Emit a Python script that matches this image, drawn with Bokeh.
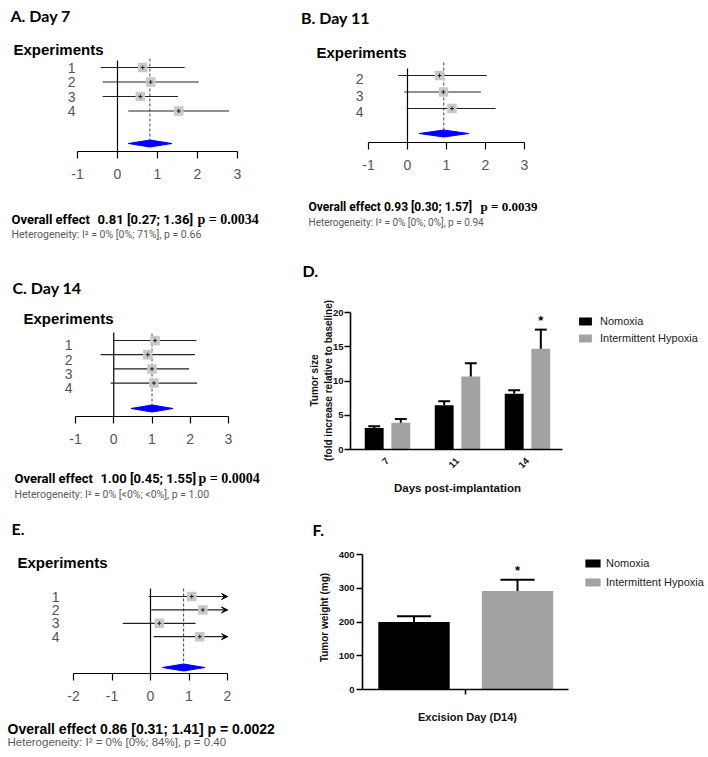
import math
from bokeh.plotting import figure
from bokeh.models import Range1d, FixedTicker, LinearAxis, Arrow, VeeHead, Legend, LegendItem
from bokeh.layouts import column, row
from bokeh.core.properties import value
from bokeh.embed import file_html
from bokeh.resources import INLINE

# ---------------- data ----------------
# A. Day 7 (forest plot)
expA = ["1", "2", "3", "4"]
estA = [0.63, 0.83, 0.57, 1.53]
lowA = [-0.42, -0.37, -0.37, 0.27]
highA = [1.68, 2.03, 1.51, 2.79]
sumA = [0.81, 0.27, 1.36]          # estimate, lower, upper
pvalA = "0.0034"
hetA = ["0%", "0%", "71%", "0.66"]  # I2, lower, upper, p

# B. Day 11
expB = ["2", "3", "4"]
estB = [0.82, 0.92, 1.14]
lowB = [-0.24, -0.08, -0.02]
highB = [2.03, 1.88, 2.26]
sumB = [0.93, 0.30, 1.57]
pvalB = "0.0039"
hetB = ["0%", "0%", "0%", "0.94"]

# C. Day 14
expC = ["1", "2", "3", "4"]
estC = [1.08, 0.89, 1.00, 1.05]
lowC = [0.00, -0.34, 0.00, -0.08]
highC = [2.16, 2.12, 1.97, 2.18]
sumC = [1.00, 0.45, 1.55]
pvalC = "0.0004"
hetC = ["0%", "<0%", "<0%", "1.00"]

# E. tumor weight (forest plot)
expE = ["1", "2", "3", "4"]
estE = [1.07, 1.36, 0.23, 1.28]
lowE = [-0.05, 0.02, -0.72, 0.08]
highE = [2.19, 2.70, 1.17, 2.48]
sumE = [0.86, 0.31, 1.41]
pvalE = "0.0022"
hetE = ["0%", "0%", "84%", "0.40"]

# D. tumor size by day
groups = ["Nomoxia", "Intermittent Hypoxia"]
days = ["7", "11", "14"]
size_norm = [3.15, 6.45, 8.15]
size_norm_sem = [0.25, 0.60, 0.50]
size_ih = [3.90, 10.65, 14.70]
size_ih_sem = [0.55, 1.95, 2.80]
size_sig = ["", "", "*"]

# F. tumor weight at excision
weight_mean = [200, 292]
weight_sem = [17, 33]
weight_sig = ["", "*"]

NARROW = "Roboto"
SANS = "Liberation Sans"
SERIF = "Liberation Serif"
TITLE = "Lato"
BLACK = "#000000"
GREY_BAR = "#a2a2a2"
HET_GREY = "#5a5a5a"


def lin(p1, v1, p2, v2):
    return lambda px: v1 + (px - p1) * (v2 - v1) / (p2 - p1)


def canvas(ox, oy, W, H, X, Y):
    p = figure(width=W, height=H,
               x_range=Range1d(X(ox), X(ox + W)), y_range=Range1d(Y(oy + H), Y(oy)),
               output_backend="svg", toolbar_location=None,
               x_axis_location=None, y_axis_location=None,
               min_border=0, min_border_left=0, min_border_right=0,
               min_border_top=0, min_border_bottom=0,
               outline_line_color=None)
    p.xgrid.visible = False
    p.ygrid.visible = False
    return p


def put_text(p, X, Y, texts):
    for t in texts:
        s, px, py, font, size, style, color = t[:7]
        align = t[7] if len(t) > 7 else "left"
        p.text(x=[X(px)], y=[Y(py)], text=[s], text_font=value(font), text_font_size=size,
               text_font_style=style, text_color=color, text_align=align,
               text_baseline="alphabetic")


def forest(ox, oy, W, H, fl, fr, ft, fb, xmin, xmax, xticks, row1, drow, diam_y,
           zero_top, dash_top, lab_dy, lab_standoff, exp, est, low, high, summ, texts):
    X = lin(fl, xmin, fr, xmax)
    Y = lin(row1, 1, row1 + drow, 2)
    p = canvas(ox, oy, W, H, X, Y)

    rows = list(range(1, len(exp) + 1))
    yd = Y(diam_y)
    half = 3.5 / drow
    p.segment(x0=[0], y0=[Y(zero_top)], x1=[0], y1=[Y(fb)], line_color="black", line_width=1.2)
    p.segment(x0=[summ[0]], y0=[Y(dash_top)], x1=[summ[0]], y1=[yd],
              line_color="#444444", line_width=1, line_dash="3 2")
    hi_c = [min(h, xmax) for h in high]
    p.segment(x0=low, y0=rows, x1=hi_c, y1=rows, line_color="#222222", line_width=1.2)
    for r, h in zip(rows, high):
        if h > xmax:
            p.add_layout(Arrow(end=VeeHead(size=6, line_color="black", fill_color="black", line_width=1),
                               x_start=xmax - 0.05, y_start=r, x_end=xmax, y_end=r,
                               line_color="black", line_width=1.2))
    p.scatter(est, rows, marker="square", size=9.5, fill_color="#c8c8c8", line_color=None)
    p.scatter(est, rows, marker="cross", size=4, line_color="#222222", line_width=1)
    p.patch([summ[1], summ[0], summ[2], summ[0]], [yd, yd + half, yd, yd - half],
            fill_color="#0000ff", line_color="#0000ff")

    xa = LinearAxis(fixed_location=Y(fb), bounds=(xmin, xmax), ticker=FixedTicker(ticks=xticks))
    xa.major_label_overrides = {t: str(t) for t in xticks}
    xa.axis_line_color = "black"
    xa.axis_line_width = 1.2
    xa.major_tick_in = 0
    xa.major_tick_out = 7
    xa.major_tick_line_color = "black"
    xa.major_tick_line_width = 1.2
    xa.minor_tick_line_color = None
    xa.major_label_text_font = SANS
    xa.major_label_text_font_size = "14px"
    xa.major_label_text_color = "#555555"
    xa.major_label_standoff = 10
    p.add_layout(xa, "below")

    ticks = [round(r + lab_dy / drow, 3) for r in rows]
    ya = LinearAxis(fixed_location=xmin, ticker=FixedTicker(ticks=ticks))
    ya.major_label_overrides = {t: e for t, e in zip(ticks, exp)}
    ya.axis_line_color = None
    ya.major_tick_line_color = None
    ya.major_tick_in = 0
    ya.major_tick_out = 0
    ya.minor_tick_line_color = None
    ya.major_label_text_font = SANS
    ya.major_label_text_font_size = "14px"
    ya.major_label_text_color = "#555555"
    ya.major_label_standoff = lab_standoff
    p.add_layout(ya, "left")

    put_text(p, X, Y, texts)
    return p


def het(h):
    return "Heterogeneity: I\u00b2 = %s [%s; %s], p = %s" % tuple(h)


def ci(s):
    return "%.2f  [%.2f; %.2f]" % (s[0], s[1], s[2])


pA = forest(0, 0, 300, 250, 77, 237, 58, 151, -1, 3, [-1, 0, 1, 2, 3],
            67, 14.5, 143, 60, 58, 0, 2, expA, estA, lowA, highA, sumA,
            [("A. Day 7", 10, 15, TITLE, "16px", "bold", BLACK),
             ("Experiments", 13, 49, SANS, "15px", "bold", BLACK),
             ("Overall effect", 11, 219, NARROW, "13px", "bold", BLACK),
             (ci(sumA), 97, 219, NARROW, "13px", "bold", BLACK),
             ("p = " + pvalA, 197, 219, SERIF, "14px", "bold", BLACK),
             (het(hetA), 11, 234, NARROW, "10.5px", "normal", HET_GREY)])

pB = forest(300, 0, 408, 250, 368, 524, 62, 142, -1, 3, [-1, 0, 1, 2, 3],
            75, 16.5, 133, 68, 62, 4, 5, expB, estB, lowB, highB, sumB,
            [("B. Day 11", 300.5, 17, TITLE, "16px", "bold", BLACK),
             ("Experiments", 316, 52, SANS, "15px", "bold", BLACK),
             ("Overall effect  " + ci(sumB).replace("  ", " "), 308, 206, NARROW, "12px", "bold", BLACK),
             ("p = " + pvalB, 480, 206, SERIF, "13px", "bold", BLACK),
             (het(hetB), 308, 222, NARROW, "10px", "normal", HET_GREY)])

pC = forest(0, 250, 300, 255, 75, 228, 332, 416, -1, 3, [-1, 0, 1, 2, 3],
            340, 14.2, 408, 332, 333, 5, 3, expC, estC, lowC, highC, sumC,
            [("C. Day 14", 12, 287, TITLE, "16px", "bold", BLACK),
             ("Experiments", 23, 318, SANS, "15px", "bold", BLACK),
             ("Overall effect", 14, 478, NARROW, "13px", "bold", BLACK),
             (ci(sumC), 100, 478, NARROW, "13px", "bold", BLACK),
             ("p = " + pvalC, 198, 478, SERIF, "14px", "bold", BLACK),
             (het(hetC), 14, 494, NARROW, "10.5px", "normal", HET_GREY)])

pE = forest(0, 505, 300, 252, 73, 227, 588, 673, -2, 2, [-2, -1, 0, 1, 2],
            596, 13.4, 667, 588, 588, 0, 14, expE, estE, lowE, highE, sumE,
            [("E.", 11, 528, TITLE, "16px", "bold", BLACK),
             ("Experiments", 17, 562, SANS, "15px", "bold", BLACK),
             ("Overall effect  " + ci(sumE) + "  p = " + pvalE, 7, 728, SANS, "14px", "bold", BLACK),
             (het(hetE), 7, 741, SANS, "11.5px", "normal", HET_GREY)])


def style_axis(ax):
    ax.axis_line_color = "black"
    ax.axis_line_width = 1.6
    ax.major_tick_line_color = "black"
    ax.major_tick_line_width = 1.6
    ax.major_tick_in = 0
    ax.minor_tick_line_color = None
    ax.major_label_text_font = SANS
    ax.major_label_text_font_style = "bold"
    ax.major_label_text_font_size = "9.5px"
    ax.major_label_text_color = "#111111"


def legend(p, rends, vx, vy, gw, standoff, spacing):
    lg = Legend(items=[LegendItem(label=g, renderers=[r]) for g, r in zip(groups, rends)],
                location=(vx, vy), glyph_width=gw, glyph_height=10, label_height=12,
                label_text_font=SANS, label_text_font_size="11px", label_text_color="#222222",
                label_standoff=standoff, spacing=spacing, padding=0, margin=0,
                border_line_color=None, background_fill_alpha=0)
    p.add_layout(lg)


# ---- D ----
XD = lin(387, 1, 457, 2)
YD = lin(449, 0, 312, 20)
pD = canvas(300, 250, 408, 255, XD, YD)
xs = list(range(1, len(days) + 1))
xn = [x - 0.19 for x in xs]
xi = [x + 0.19 for x in xs]
rn = pD.vbar(x=xn, top=size_norm, width=0.27, fill_color=BLACK, line_color=None)
ri = pD.vbar(x=xi, top=size_ih, width=0.27, fill_color=GREY_BAR, line_color=None)
for xx, m, s in ((xn, size_norm, size_norm_sem), (xi, size_ih, size_ih_sem)):
    tops = [a + b for a, b in zip(m, s)]
    pD.segment(x0=xx, y0=m, x1=xx, y1=tops, line_color="black", line_width=2)
    pD.segment(x0=[x - 0.085 for x in xx], y0=tops, x1=[x + 0.085 for x in xx], y1=tops,
               line_color="black", line_width=2)
star_x = [x for x, s in zip(xi, size_sig) if s]
star_y = [m + e + 1.3 for m, e, s in zip(size_ih, size_ih_sem, size_sig) if s]
pD.text(x=star_x, y=star_y, text=[s for s in size_sig if s], text_font=value(SANS),
        text_font_style="bold", text_font_size="13px", text_align="center", text_baseline="middle")
yaD = LinearAxis(fixed_location=XD(350), bounds=(0, 20), ticker=FixedTicker(ticks=[0, 5, 10, 15, 20]))
style_axis(yaD)
yaD.major_tick_out = 6
yaD.major_label_standoff = 1
pD.add_layout(yaD, "left")
xaD = LinearAxis(fixed_location=0, bounds=(XD(350), XD(562)), ticker=FixedTicker(ticks=xs))
style_axis(xaD)
xaD.major_label_overrides = {x: d for x, d in zip(xs, days)}
xaD.major_label_orientation = math.pi / 4
xaD.major_tick_line_color = None
xaD.major_label_standoff = 4
pD.add_layout(xaD, "below")
put_text(pD, XD, YD, [("D.", 302, 270, TITLE, "16px", "bold", BLACK),
                      ("Days post-implantation", 457, 487, SANS, "11.5px", "bold", "#111111", "center")])
for s, px in (("Tumor size", 314), ("(fold increase relative to baseline)", 328)):
    pD.text(x=[XD(px)], y=[YD(380)], text=[s], angle=math.pi / 2, text_font=value(SANS),
            text_font_size="10px", text_font_style="bold", text_color="#111111",
            text_align="center", text_baseline="alphabetic")
legend(pD, [rn, ri], 277, 161, 16, 7, 5)

# ---- F ----
XF = lin(413.5, 0, 517, 1)
YF = lin(689, 0, 554, 400)
pF = canvas(300, 505, 408, 252, XF, YF)
xf = list(range(len(groups)))
cols = [BLACK, GREY_BAR]
rF = [pF.vbar(x=[xf[i]], top=[weight_mean[i]], width=0.69, fill_color=cols[i], line_color=None)
      for i in xf]
ftops = [a + b for a, b in zip(weight_mean, weight_sem)]
pF.segment(x0=xf, y0=weight_mean, x1=xf, y1=ftops, line_color="black", line_width=2)
pF.segment(x0=[x - 0.165 for x in xf], y0=ftops, x1=[x + 0.165 for x in xf], y1=ftops,
           line_color="black", line_width=2)
fsx = [x for x, s in zip(xf, weight_sig) if s]
fsy = [t + 28 for t, s in zip(ftops, weight_sig) if s]
pF.text(x=fsx, y=fsy, text=[s for s in weight_sig if s], text_font=value(SANS),
        text_font_style="bold", text_font_size="13px", text_align="center", text_baseline="middle")
yaF = LinearAxis(fixed_location=XF(362), bounds=(0, 400),
                 ticker=FixedTicker(ticks=[0, 100, 200, 300, 400]))
style_axis(yaF)
yaF.major_tick_out = 6
yaF.major_label_standoff = 2
pF.add_layout(yaF, "left")
xaF = LinearAxis(fixed_location=0, bounds=(XF(362), XF(568)), ticker=FixedTicker(ticks=[0.5]))
style_axis(xaF)
xaF.major_label_overrides = {0.5: ""}
xaF.major_tick_out = 5
pF.add_layout(xaF, "below")
put_text(pF, XF, YF, [("F.", 312, 529, TITLE, "16px", "bold", BLACK),
                      ("Excision Day (D14)", 467, 716, SANS, "11px", "bold", "#111111", "center")])
pF.text(x=[XF(324)], y=[YF(617)], text=["Tumor weight (mg)"], angle=math.pi / 2,
        text_font=value(SANS), text_font_size="10px", text_font_style="bold",
        text_color="#111111", text_align="center", text_baseline="alphabetic")
legend(pF, rF, 283, 169, 19, 4, 7)

layout = column(row(pA, pB), row(pC, pD), row(pE, pF))
open("out.html", "w").write(file_html(layout, INLINE))
